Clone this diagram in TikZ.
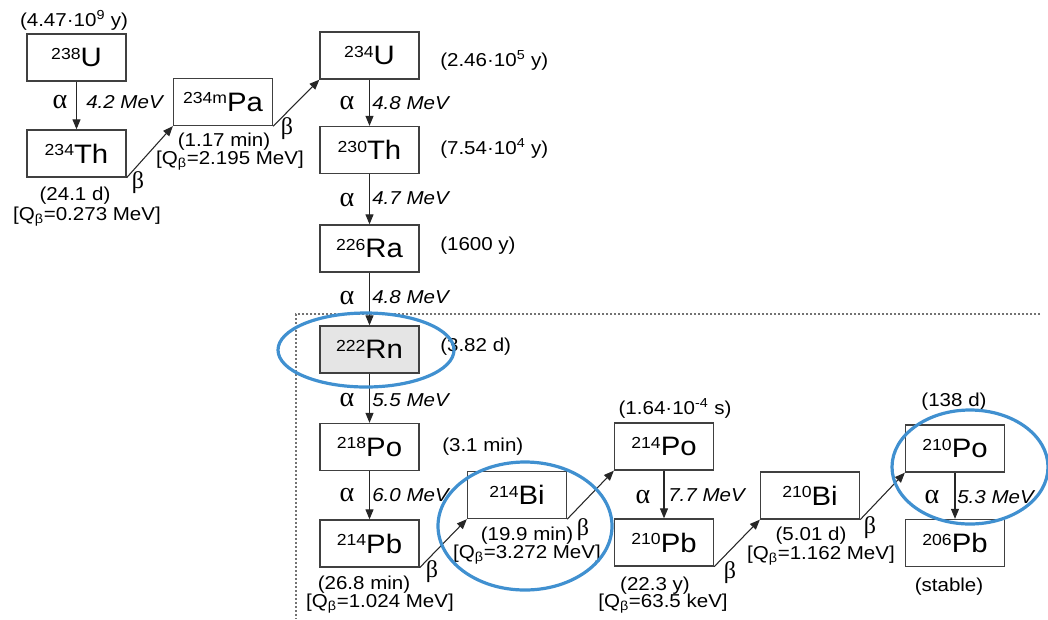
\documentclass[tikz,border=0pt]{standalone}
\usepackage{fontspec}
\setmainfont{Liberation Sans}[FakeStretch=1.1]
\newfontfamily\grk{Liberation Serif}
\usetikzlibrary{arrows.meta}
\tikzset{
 nucbox/.style={draw=black!75, line width=1pt, minimum width=74.25pt, minimum height=35.25pt, inner sep=0pt, font=\fontsize{20}{20}\selectfont},
 lab/.style={font=\fontsize{14}{14}\selectfont, inner sep=0pt},
 en/.style={font=\fontsize{14}{14}\selectfont\itshape, inner sep=0pt, anchor=west},
 grl/.style={font=\grk\fontsize{18}{18}\selectfont, inner sep=0pt},
 gra/.style={font=\grk\fontsize{21}{21}\selectfont, inner sep=0pt},
 decay/.style={draw=black!85, line width=0.8pt, -{Triangle[length=7.5pt,width=6pt]}},
 ring/.style={draw={rgb,255:red,64;green,144;blue,208}, line width=2.4pt},
 dbox/.style={draw=black!55, line width=0.8pt, dash pattern=on 1.4pt off 1.6pt},
}
\newcommand\iso[2]{\raisebox{5.5pt}{\fontsize{12}{12}\selectfont #1}#2}
\begin{document}
\begin{tikzpicture}[x=0.75pt,y=-0.75pt]
\useasboundingbox (0,0) rectangle (1048,619);
\draw[dbox] (1040,314) -- (296,314) -- (296,619);
% boxes
\node[nucbox] (U238) at (76.5,57.5) {\iso{238}{U}};
\node[nucbox] (Th234) at (76.5,153.5) {\iso{234}{Th}};
\node[nucbox] (Pa234) at (223,102) {\iso{234m}{Pa}};
\node[nucbox] (U234) at (369.5,55.5) {\iso{234}{U}};
\node[nucbox] (Th230) at (369.5,150) {\iso{230}{Th}};
\node[nucbox] (Ra226) at (369.5,248.5) {\iso{226}{Ra}};
\node[nucbox, fill=black!10] (Rn222) at (369.5,349.5) {\iso{222}{Rn}};
\node[nucbox] (Po218) at (369.5,447) {\iso{218}{Po}};
\node[nucbox] (Pb214) at (369.5,543.5) {\iso{214}{Pb}};
\node[nucbox] (Bi214) at (517,495) {\iso{214}{Bi}};
\node[nucbox] (Po214) at (664,446.5) {\iso{214}{Po}};
\node[nucbox] (Pb210) at (664,542.5) {\iso{210}{Pb}};
\node[nucbox] (Bi210) at (810,495.5) {\iso{210}{Bi}};
\node[nucbox] (Po210) at (955,448.5) {\iso{210}{Po}};
\node[nucbox] (Pb206) at (955,543) {\iso{206}{Pb}};
% alpha decays
\draw[decay] (U238) -- (Th234);
\draw[decay] (U234) -- (Th230);
\draw[decay] (Th230) -- (Ra226);
\draw[decay] (Ra226) -- (Rn222);
\draw[decay] (Rn222) -- (Po218);
\draw[decay] (Po218) -- (Pb214);
\draw[decay] (Po214) -- (Pb210);
\draw[decay] (Po210) -- (Pb206);
% beta decays
\draw[decay] (Th234.south east) -- (Pa234.south west);
\draw[decay] (Pa234.south east) -- (U234.south west);
\draw[decay] (Pb214.south east) -- (Bi214.south west);
\draw[decay] (Bi214.south east) -- (Po214.south west);
\draw[decay] (Pb210.south east) -- (Bi210.south west);
\draw[decay] (Bi210.south east) -- (Po210.south west);
% alpha labels
\node[gra] (a1) at (60,102) {α}; \node[en] (e1) at (86,102) {4.2 MeV};
\node[gra] (a2) at (347,103) {α}; \node[en] (e2) at (372,103) {4.8 MeV};
\node[gra] (a3) at (347,200) {α}; \node[en] (e3) at (372,198) {4.7 MeV};
\node[gra] (a4) at (347,298) {α}; \node[en] (e4) at (372,297) {4.8 MeV};
\node[gra] (a5) at (347,400) {α}; \node[en] (e5) at (372,400) {5.5 MeV};
\node[gra] (a6) at (347,495) {α}; \node[en] (e6) at (372,495) {6.0 MeV};
\node[gra] (a7) at (643,497) {α}; \node[en] (e7) at (668,495) {7.7 MeV};
\node[gra] (a8) at (932,497) {α}; \node[en] (e8) at (957,497) {5.3 MeV};
% beta labels
\node[grl] (b1) at (138,183) {β};
\node[grl] (b2) at (287,129) {β};
\node[grl] (b3) at (432,572) {β};
\node[grl] (b4) at (583,530) {β};
\node[grl] (b5) at (730,573) {β};
\node[grl] (b6) at (870,528) {β};
% half-lives
\node[lab] (h1) at (74,20) {(4.47·10\textsuperscript{9} y)};
\node[lab] (h2) at (75,196) {(24.1 d)};
\node[lab] (q2) at (87,217) {[Q\textsubscript{β}=0.273 MeV]};
\node[lab] (h3) at (224,142) {(1.17 min)};
\node[lab] (q3) at (230,161) {[Q\textsubscript{β}=2.195 MeV]};
\node[lab,anchor=west] (h4) at (440,60) {(2.46·10\textsuperscript{5} y)};
\node[lab,anchor=west] (h5) at (440,148) {(7.54·10\textsuperscript{4} y)};
\node[lab,anchor=west] (h6) at (440,246) {(1600 y)};
\node[lab,anchor=west] (h7) at (440,347) {(3.82 d)};
\node[lab,anchor=west] (h8) at (442,447) {(3.1 min)};
\node[lab] (h9) at (364,585) {(26.8 min)};
\node[lab] (q9) at (380,604) {[Q\textsubscript{β}=1.024 MeV]};
\node[lab] (h10) at (527,536) {(19.9 min)};
\node[lab] (q10) at (527,555) {[Q\textsubscript{β}=3.272 MeV]};
\node[lab] (h11) at (675,408) {(1.64·10\textsuperscript{-4} s)};
\node[lab] (h12) at (655,586) {(22.3 y)};
\node[lab] (q12) at (663,604) {[Q\textsubscript{β}=63.5 keV]};
\node[lab] (h13) at (811,536) {(5.01 d)};
\node[lab] (q13) at (821,556) {[Q\textsubscript{β}=1.162 MeV]};
\node[lab] (h14) at (954,402) {(138 d)};
\node[lab] (h15) at (949,587) {(stable)};
% highlight rings
\draw[ring] (366,350) ellipse [x radius=66pt, y radius=27.75pt];
\draw[ring] (525,526) ellipse [x radius=65.25pt, y radius=48pt];
\draw[ring] (970,467) ellipse [x radius=58.5pt, y radius=42.75pt];
\end{tikzpicture}
\end{document}
